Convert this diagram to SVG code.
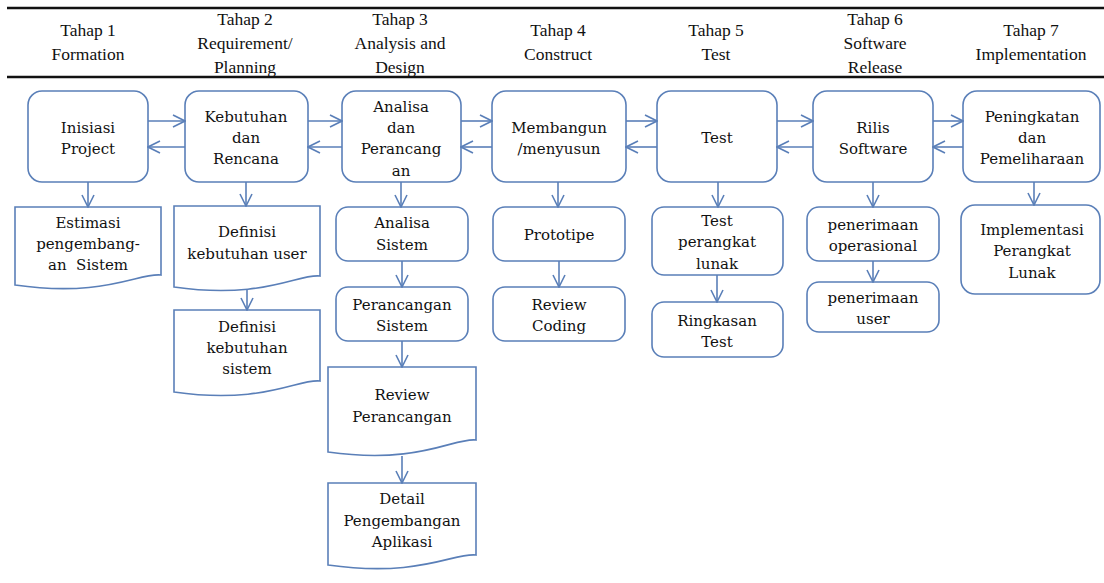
<svg xmlns="http://www.w3.org/2000/svg" width="1104" height="583" viewBox="0 0 1104 583">
<style>
.hd{font-family:'Liberation Serif','Times New Roman',serif;font-size:17.5px;fill:#111;text-anchor:middle}
.t{font-family:'DejaVu Serif',serif;font-size:15px;fill:#111;text-anchor:middle}
.n{fill:#fff;stroke:#5a7fb8;stroke-width:1.6}
.c{fill:none;stroke:#5a7fb8;stroke-width:1.6;marker-end:url(#ah)}
</style>
<defs>
<marker id="ah" viewBox="0 0 14 14" refX="13" refY="7" markerWidth="14" markerHeight="14" markerUnits="userSpaceOnUse" orient="auto">
<path d="M1,1 L13,7 L1,13" fill="none" stroke="#5a7fb8" stroke-width="1.6"/>
</marker>
</defs>
<rect width="1104" height="583" fill="#fff"/>
<g id="header">
<line x1="7" y1="8" x2="1104" y2="8" stroke="#111" stroke-width="2.5"/>
<line x1="7" y1="77" x2="1104" y2="77" stroke="#111" stroke-width="2.5"/>
<text class="hd" x="88" y="36">Tahap 1</text><text class="hd" x="88" y="60">Formation</text>
<text class="hd" x="245" y="25">Tahap 2</text><text class="hd" x="245" y="49">Requirement/</text><text class="hd" x="245" y="73">Planning</text>
<text class="hd" x="400" y="25">Tahap 3</text><text class="hd" x="400" y="49">Analysis and</text><text class="hd" x="400" y="73">Design</text>
<text class="hd" x="558" y="36">Tahap 4</text><text class="hd" x="558" y="60">Construct</text>
<text class="hd" x="716" y="36">Tahap 5</text><text class="hd" x="716" y="60">Test</text>
<text class="hd" x="875" y="25">Tahap 6</text><text class="hd" x="875" y="49">Software</text><text class="hd" x="875" y="73">Release</text>
<text class="hd" x="1031" y="36">Tahap 7</text><text class="hd" x="1031" y="60">Implementation</text>
</g>
<g id="n1"><rect class="n" x="28" y="91" width="120" height="91" rx="14"/><text class="t" x="88" y="133">Inisiasi</text><text class="t" x="88" y="154">Project</text></g>
<g id="n2"><rect class="n" x="185" y="91" width="123" height="91" rx="14"/><text class="t" x="246" y="122">Kebutuhan</text><text class="t" x="246" y="143">dan</text><text class="t" x="246" y="164">Rencana</text></g>
<g id="n3"><rect class="n" x="342" y="91" width="119" height="91" rx="14"/><text class="t" x="401" y="112">Analisa</text><text class="t" x="401" y="133">dan</text><text class="t" x="401" y="154">Perancang</text><text class="t" x="401" y="176">an</text></g>
<g id="n4"><rect class="n" x="492" y="91" width="134" height="91" rx="14"/><text class="t" x="559" y="133">Membangun</text><text class="t" x="559" y="154">/menyusun</text></g>
<g id="n5"><rect class="n" x="657" y="91" width="120" height="91" rx="14"/><text class="t" x="717" y="143">Test</text></g>
<g id="n6"><rect class="n" x="813" y="91" width="120" height="91" rx="14"/><text class="t" x="873" y="133">Rilis</text><text class="t" x="873" y="154">Software</text></g>
<g id="n7"><rect class="n" x="963" y="91" width="137" height="91" rx="14"/><text class="t" x="1032" y="122">Peningkatan</text><text class="t" x="1032" y="143">dan</text><text class="t" x="1032" y="164">Pemeliharaan</text></g>
<g id="d1"><path class="n" d="M15,207 H161 V275 C140,272 105,298 15,285 Z"/><text class="t" x="88" y="228">Estimasi</text><text class="t" x="88" y="249">pengembang-</text><text class="t" x="88" y="270" xml:space="preserve">an  Sistem</text></g>
<g id="d2"><path class="n" d="M174,206 H320 V276 C299,273 264,300 174,287 Z"/><text class="t" x="247" y="237">Definisi</text><text class="t" x="247" y="259">kebutuhan user</text></g>
<g id="d3"><path class="n" d="M174,310 H320 V381 C299,378 264,405 174,392 Z"/><text class="t" x="247" y="332">Definisi</text><text class="t" x="247" y="353">kebutuhan</text><text class="t" x="247" y="374">sistem</text></g>
<g id="s31"><rect class="n" x="336" y="207" width="132" height="54" rx="12"/><text class="t" x="402" y="228">Analisa</text><text class="t" x="402" y="250">Sistem</text></g>
<g id="s32"><rect class="n" x="336" y="287" width="132" height="54" rx="12"/><text class="t" x="402" y="310">Perancangan</text><text class="t" x="402" y="331">Sistem</text></g>
<g id="d4"><path class="n" d="M328,367 H476 V440 C455,437 420,465 328,452 Z"/><text class="t" x="402" y="400">Review</text><text class="t" x="402" y="422">Perancangan</text></g>
<g id="d5"><path class="n" d="M328,483 H476 V555 C455,552 420,578 328,565 Z"/><text class="t" x="402" y="504">Detail</text><text class="t" x="402" y="526">Pengembangan</text><text class="t" x="402" y="547">Aplikasi</text></g>
<g id="s41"><rect class="n" x="493" y="207" width="132" height="54" rx="12"/><text class="t" x="559" y="240">Prototipe</text></g>
<g id="s42"><rect class="n" x="493" y="287" width="132" height="54" rx="12"/><text class="t" x="559" y="310">Review</text><text class="t" x="559" y="331">Coding</text></g>
<g id="s51"><rect class="n" x="652" y="207" width="131" height="68" rx="12"/><text class="t" x="717" y="226">Test</text><text class="t" x="717" y="247">perangkat</text><text class="t" x="717" y="269">lunak</text></g>
<g id="s52"><rect class="n" x="652" y="302" width="131" height="55" rx="12"/><text class="t" x="717" y="326">Ringkasan</text><text class="t" x="717" y="347">Test</text></g>
<g id="s61"><rect class="n" x="807" y="207" width="132" height="54" rx="12"/><text class="t" x="873" y="230">penerimaan</text><text class="t" x="873" y="251">operasional</text></g>
<g id="s62"><rect class="n" x="807" y="282" width="132" height="50" rx="12"/><text class="t" x="873" y="303">penerimaan</text><text class="t" x="873" y="324">user</text></g>
<g id="s71"><rect class="n" x="961" y="205" width="139" height="89" rx="14"/><text class="t" x="1032" y="235">Implementasi</text><text class="t" x="1032" y="256">Perangkat</text><text class="t" x="1032" y="278">Lunak</text></g>
<g id="connectors">
<path class="c" d="M148,121 H185"/><path class="c" d="M185,147 H148"/>
<path class="c" d="M308,121 H342"/><path class="c" d="M342,147 H308"/>
<path class="c" d="M461,121 H492"/><path class="c" d="M492,147 H461"/>
<path class="c" d="M626,121 H657"/><path class="c" d="M657,147 H626"/>
<path class="c" d="M777,121 H813"/><path class="c" d="M813,147 H777"/>
<path class="c" d="M933,121 H963"/><path class="c" d="M963,147 H933"/>
<path class="c" d="M88,182 V207"/>
<path class="c" d="M246,182 V206"/>
<path class="c" d="M401,182 V207"/>
<path class="c" d="M558,182 V207"/>
<path class="c" d="M718,182 V207"/>
<path class="c" d="M873,182 V207"/>
<path class="c" d="M1034,182 V205"/>
<path class="c" d="M247,290 V310"/>
<path class="c" d="M402,261 V287"/>
<path class="c" d="M402,341 V367"/>
<path class="c" d="M402,456 V483"/>
<path class="c" d="M559,261 V287"/>
<path class="c" d="M717,275 V302"/>
<path class="c" d="M873,261 V282"/>
</g>
</svg>
